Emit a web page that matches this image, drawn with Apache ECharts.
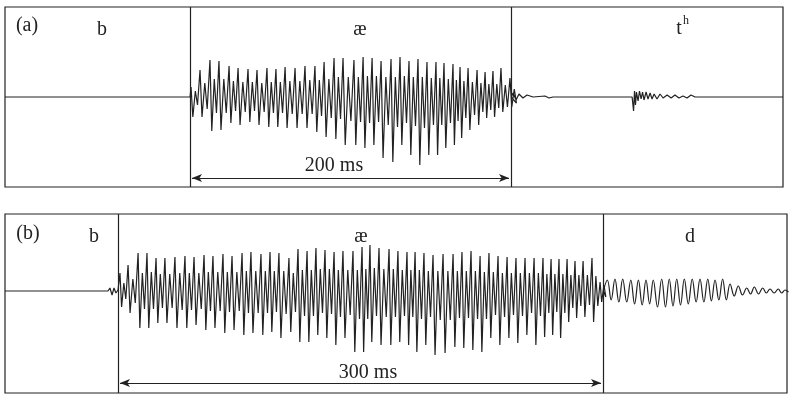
<!DOCTYPE html>
<html>
<head>
<meta charset="utf-8">
<script src="https://cdn.jsdelivr.net/npm/echarts@6/dist/echarts.min.js"></script>
<style>
  html, body { margin: 0; padding: 0; background: #fff; }
  #chart { width: 789px; height: 395px; }
</style>
</head>
<body>
<div id="chart"></div>
<script>
// ---- panel (a) "bat": time in ms, amplitude in arbitrary units ----
const spanA = [0, 484.7]
const vowelA = [115.3, 315.3]
const peakTimesA = [115.9, 121.5, 127.7, 133.3, 139.6, 145.2, 151.4, 157.0, 163.2, 168.8,
  174.5, 180.7, 186.9, 193.1, 198.8, 205.0, 210.6, 217.4, 223.1, 228.7,
  234.3, 240.5, 246.1, 251.7, 257.3, 262.9, 268.5, 273.5, 279.1, 283.5,
  288.5, 294.1, 299.1, 304.0, 309.0, 314.6]
const peaksA = [10, 27, 37, 36, 31, 29, 28, 27, 29, 28, 30, 29, 31, 31, 35, 39, 39,
  37, 40, 39, 36, 38, 40, 36, 38, 35, 35, 34, 33, 30, 29, 27, 25, 26, 29, 19]
const troughsA = [20, 20, 34, 33, 26, 28, 25, 28, 30, 30, 31, 31, 31, 35, 40, 42, 48,
  48, 51, 48, 61, 65, 48, 58, 68, 58, 58, 51, 48, 41, 33, 28, 21, 20, 15, 10]
const subPeaksA = [6, 14, 18, 18, 16, 15, 15, 14, 15, 15, 16, 16, 17, 17, 18, 20, 20,
  20, 21, 21, 20, 20, 21, 20, 20, 19, 19, 18, 17, 16, 15, 14, 13, 13, 12, 8]
const subTroughsA = [8, 12, 16, 16, 14, 15, 14, 15, 16, 16, 17, 17, 17, 19, 21, 22, 24,
  25, 26, 25, 28, 30, 26, 29, 31, 28, 28, 26, 24, 21, 18, 15, 13, 11, 10, 6]
const releaseTimesA = [316.5, 318.4, 320.2, 322.7, 325.2, 329.0, 336.4, 338.9, 341.4]
const releaseValsA = [4, -3, 3, -1, 2, 0, 1, -1, 0]
const burstTimesA = [390.7, 391.6, 392.2, 392.8, 393.4, 394.4, 395.3, 396.3, 397.2, 398.1,
  399.4, 400.6, 401.9, 403.1, 404.4, 406.2, 408.1, 410.0, 412.5, 415.0,
  417.4, 419.9, 422.4, 424.9, 427.4, 429.9, 433.0]
const burstValsA = [0, -14, 6, -8, 5, -4, 6, -2, 5, -3, 5, -2, 4, -2, 3, -2, 3, -1, 2, -1,
  2, -1, 1, -1, 2, 0, 0]

// ---- panel (b) "bad" ----
const spanB = [0, 483.6]
const vowelB = [70, 370]
const preTimesB = [63.7, 64.9, 66.2, 67.4, 68.6, 69.9]
const preValsB = [0, 3, -4, 3, -2, 1]
const peakTimesB = [71.1, 76.1, 82.3, 87.8, 93.4, 98.9, 105.1, 111.3, 116.9, 123.1,
  128.6, 134.8, 140.4, 146.6, 152.1, 158.3, 163.9, 169.4, 175.6, 181.2,
  186.8, 192.3, 197.9, 203.5, 209.0, 215.2, 220.8, 225.7, 231.3, 237.5,
  243.0, 248.6, 253.6, 259.1, 264.7, 270.9, 277.1, 282.6, 288.2, 293.8,
  299.3, 304.9, 310.5, 316.0, 321.6, 327.2, 332.7, 337.7, 342.6, 347.6,
  352.5, 357.5, 363.0, 368.0]
const peaksB = [18, 26, 38, 38, 33, 33, 34, 35, 34, 36, 35, 37, 35, 38, 39, 37, 39,
  38, 33, 42, 40, 43, 41, 39, 40, 40, 44, 46, 43, 42, 40, 39, 39, 38, 36,
  37, 37, 39, 40, 35, 38, 35, 34, 33, 33, 33, 33, 32, 32, 32, 30, 30, 33, 9]
const troughsB = [16, 22, 37, 37, 32, 32, 37, 37, 34, 39, 37, 42, 39, 44, 42, 44, 41,
  47, 41, 51, 51, 44, 47, 54, 47, 61, 61, 51, 54, 54, 51, 54, 61, 54, 64,
  62, 56, 57, 59, 61, 47, 54, 47, 52, 44, 54, 46, 44, 47, 31, 27, 26, 31, 11]
const subPeaksB = [8, 12, 18, 19, 17, 17, 18, 18, 18, 19, 19, 19, 19, 20, 20, 20, 20,
  20, 18, 21, 21, 22, 22, 21, 21, 21, 22, 23, 22, 22, 21, 21, 21, 20, 20,
  20, 20, 20, 20, 19, 19, 18, 18, 18, 18, 18, 17, 17, 17, 16, 16, 16, 15, 6]
const subTroughsB = [8, 12, 18, 18, 17, 17, 19, 19, 18, 20, 20, 21, 20, 22, 22, 22, 21,
  23, 21, 25, 25, 22, 23, 26, 24, 28, 28, 25, 26, 26, 25, 26, 28, 26, 29,
  29, 27, 27, 28, 28, 24, 26, 24, 25, 22, 25, 22, 21, 22, 17, 15, 14, 15, 6]
const dPeakTimesB = [372.5, 377.2, 382.0, 387.0, 391.7, 396.4, 400.9, 406.1, 410.8, 415.4,
  420.1, 425.0, 429.8, 434.6, 439.1, 443.8, 448.4, 453.5, 458.7, 463.4,
  468.6, 473.1, 478.2, 482.4]
const dPeaksB = [11, 12, 12, 11, 11, 11, 11, 12, 12, 12, 12, 12, 12, 12, 11, 12, 7, 5, 3, 4, 3, 2, 2, 1]
const dTroughsB = [9, 11, 11, 13, 14, 13, 16, 16, 15, 14, 13, 11, 11, 10, 9, 9, 5, 4, 3, 3, 2, 2, 2, 1]

// arrow spans (ms) and their height on the amplitude axis
const arrowA = [116.5, 314.0, -81]
const arrowB = [71.1, 368.6, -92]

const ink = '#222'
const serif = '"Liberation Serif", "Times New Roman", serif'

const pairs = (ts, vs) => ts.map((t, i) => [t, vs[i]])

// one glottal cycle: main peak, main trough, then a smaller peak/trough
const buildVowel = (times, peaks, troughs, subPeaks, subTroughs) => {
  const pts = []
  for (let i = 0; i < times.length; i++) {
    const t = times[i]
    const p = i < times.length - 1 ? times[i + 1] - t : t - times[i - 1]
    pts.push([t, peaks[i]])
    pts.push([t + p * 0.2, -troughs[i]])
    pts.push([t + p * 0.48, subPeaks[i]])
    pts.push([t + p * 0.72, -subTroughs[i]])
  }
  return pts
}

const buildSine = (times, peaks, troughs) => {
  const pts = []
  for (let i = 0; i < times.length; i++) {
    const t = times[i]
    const p = i < times.length - 1 ? times[i + 1] - t : t - times[i - 1]
    pts.push([t, peaks[i]])
    pts.push([t + p / 2, -troughs[i]])
  }
  return pts
}

const waveA = [[spanA[0], 0], [vowelA[0], 0]]
  .concat(buildVowel(peakTimesA, peaksA, troughsA, subPeaksA, subTroughsA))
  .concat([[vowelA[1], 0]])
  .concat(pairs(releaseTimesA, releaseValsA))
  .concat(pairs(burstTimesA, burstValsA))
  .concat([[spanA[1], 0]])

const waveB = [[spanB[0], 0]]
  .concat(pairs(preTimesB, preValsB))
  .concat(buildVowel(peakTimesB, peaksB, troughsB, subPeaksB, subTroughsB))
  .concat([[vowelB[1], 0]])

const waveD = [[vowelB[1], 0]]
  .concat(buildSine(dPeakTimesB, dPeaksB, dTroughsB))
  .concat([[spanB[1], 0]])

const dividers = (bounds) => ({
  silent: true,
  symbol: 'none',
  label: { show: false },
  lineStyle: { color: ink, width: 1.2, type: 'solid' },
  data: bounds.map(x => ({ xAxis: x }))
})

const arrow = (a) => ({
  silent: true,
  symbol: ['arrow', 'arrow'],
  symbolSize: [6, 10],
  label: { show: false },
  lineStyle: { color: ink, width: 1, type: 'solid' },
  data: [[{ coord: [a[0], a[2]] }, { coord: [a[1], a[2]] }]]
})

const hiddenAxis = { show: false }
const txt = (x, y, text, size) => ({
  type: 'text', x, y,
  style: { text, font: size + 'px ' + serif, fill: ink, align: 'center', verticalAlign: 'middle' }
})

const chart = echarts.init(document.getElementById('chart'))
chart.setOption({
  animation: false,
  backgroundColor: '#fff',
  grid: [
    { left: 5, top: 7, width: 778, height: 180, show: true, borderColor: ink, borderWidth: 1.2 },
    { left: 5, top: 214, width: 782, height: 179, show: true, borderColor: ink, borderWidth: 1.2 }
  ],
  xAxis: [
    { type: 'value', gridIndex: 0, min: spanA[0], max: spanA[1], ...hiddenAxis },
    { type: 'value', gridIndex: 1, min: spanB[0], max: spanB[1], ...hiddenAxis }
  ],
  yAxis: [
    { type: 'value', gridIndex: 0, min: -90, max: 90, ...hiddenAxis },
    { type: 'value', gridIndex: 1, min: -102, max: 77, ...hiddenAxis }
  ],
  series: [
    {
      type: 'line', xAxisIndex: 0, yAxisIndex: 0, data: waveA,
      symbol: 'none', silent: true,
      lineStyle: { color: ink, width: 1.2 },
      markLine: dividers(vowelA)
    },
    {
      type: 'line', xAxisIndex: 0, yAxisIndex: 0, data: [],
      markLine: arrow(arrowA)
    },
    {
      type: 'line', xAxisIndex: 1, yAxisIndex: 1, data: waveB,
      symbol: 'none', silent: true,
      lineStyle: { color: ink, width: 1.2 },
      markLine: dividers(vowelB)
    },
    {
      type: 'line', xAxisIndex: 1, yAxisIndex: 1, data: waveD,
      symbol: 'none', silent: true, smooth: 0.4,
      lineStyle: { color: ink, width: 1.2 },
      markLine: arrow(arrowB)
    }
  ],
  graphic: [
    txt(27, 26, '(a)', 20),
    txt(102, 30, 'b', 20),
    txt(360, 30, 'æ', 20),
    txt(679, 29, 't', 20),
    txt(686, 21, 'h', 12),
    txt(334, 166, '200 ms', 20),
    txt(28, 234, '(b)', 20),
    txt(94, 237, 'b', 20),
    txt(361, 237, 'æ', 20),
    txt(690, 237, 'd', 20),
    txt(368, 373, '300 ms', 20)
  ]
})

window.addEventListener('resize', () => chart.resize())
</script>
</body>
</html>
